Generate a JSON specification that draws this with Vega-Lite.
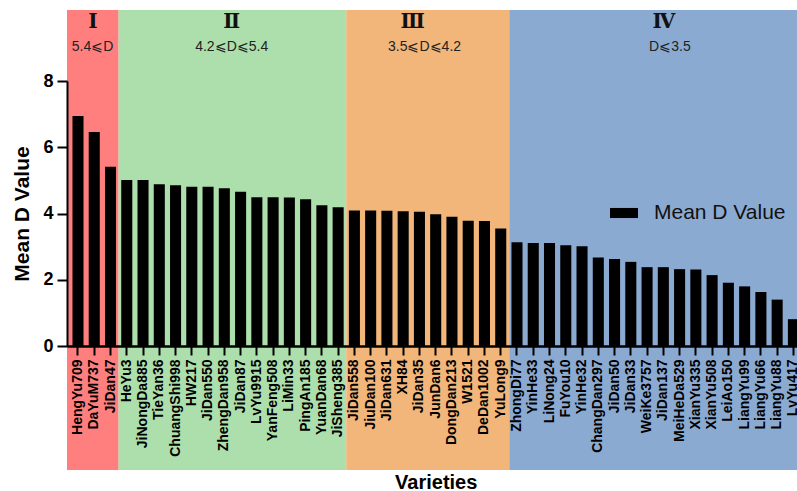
{
  "$schema": "https://vega.github.io/schema/vega-lite/v6.json",
  "width": 730,
  "height": 265,
  "autosize": {"type": "none"},
  "padding": {"left": 67, "top": 81, "right": 0, "bottom": 145},
  "background": "white",
  "config": {"view": {"stroke": null}, "font": "Liberation Sans"},
  "datasets": {
    "bands": [
      {"grade": "Ⅰ", "cond": "5.4⩽D", "start": 0, "end": 3.175, "lo": -3.74, "hi": 10.14, "numX": 1.6, "condX": 1.57, "numY": 9.78, "condY": 9.04},
      {"grade": "Ⅱ", "cond": "4.2⩽D⩽5.4", "start": 3.175, "end": 17.175, "lo": -3.74, "hi": 10.14, "numX": 10.13, "condX": 10.13, "numY": 9.78, "condY": 9.04},
      {"grade": "Ⅲ", "cond": "3.5⩽D⩽4.2", "start": 17.175, "end": 27.2, "lo": -3.74, "hi": 10.14, "numX": 21.26, "condX": 21.99, "numY": 9.78, "condY": 9.04},
      {"grade": "Ⅳ", "cond": "D⩽3.5", "start": 27.2, "end": 45.352, "lo": -3.74, "hi": 10.14, "numX": 36.7, "condX": 37.08, "numY": 9.78, "condY": 9.04}
    ],
    "bars": [
      {"variety": "HengYu709", "d": 6.94},
      {"variety": "DaYuM737", "d": 6.46},
      {"variety": "JiDan47", "d": 5.41},
      {"variety": "HeYu3", "d": 5.01},
      {"variety": "JiNongDa885", "d": 5.01},
      {"variety": "TieYan36", "d": 4.88},
      {"variety": "ChuangShi998", "d": 4.85},
      {"variety": "HW217", "d": 4.81},
      {"variety": "JiDan550", "d": 4.81},
      {"variety": "ZhengDan958", "d": 4.76},
      {"variety": "JiDan87", "d": 4.66},
      {"variety": "LvYu9915", "d": 4.49},
      {"variety": "YanFeng508", "d": 4.49},
      {"variety": "LiMin33", "d": 4.48},
      {"variety": "PingAn185", "d": 4.43},
      {"variety": "YuanDan68", "d": 4.25},
      {"variety": "JiSheng385", "d": 4.19},
      {"variety": "JiDan558", "d": 4.09},
      {"variety": "JiuDan100", "d": 4.09},
      {"variety": "JiDan631", "d": 4.08},
      {"variety": "XH84", "d": 4.07},
      {"variety": "JiDan35", "d": 4.05},
      {"variety": "JunDan6", "d": 3.98},
      {"variety": "DongDan213", "d": 3.90},
      {"variety": "W1521", "d": 3.78},
      {"variety": "DeDan1002", "d": 3.77},
      {"variety": "YuLong9", "d": 3.55},
      {"variety": "ZhongDi77", "d": 3.13},
      {"variety": "YinHe33", "d": 3.11},
      {"variety": "LiNong24", "d": 3.11},
      {"variety": "FuYou10", "d": 3.04},
      {"variety": "YinHe32", "d": 3.01},
      {"variety": "ChangDan297", "d": 2.67},
      {"variety": "JiDan50", "d": 2.63},
      {"variety": "JiDan33", "d": 2.54},
      {"variety": "WeiKe3757", "d": 2.38},
      {"variety": "JiDan137", "d": 2.38},
      {"variety": "MeiHeDa529", "d": 2.32},
      {"variety": "XianYu335", "d": 2.31},
      {"variety": "XianYu508", "d": 2.14},
      {"variety": "LeiAo150", "d": 1.91},
      {"variety": "LiangYu99", "d": 1.80},
      {"variety": "LiangYu66", "d": 1.63},
      {"variety": "LiangYu88", "d": 1.40},
      {"variety": "LvYu417", "d": 0.81}
    ]
  },
  "layer": [
    {
      "data": {"name": "bands"},
      "encoding": {
        "x": {"field": "start", "type": "quantitative", "scale": {"domain": [0, 45.352], "range": [0, 737.4], "nice": false, "zero": false}, "axis": null}
      },
      "layer": [
        {
          "mark": {"type": "rect"},
          "encoding": {
            "x2": {"field": "end"},
            "y": {"field": "lo", "type": "quantitative", "scale": {"domain": [0, 8], "nice": false}, "axis": null},
            "y2": {"field": "hi"},
            "color": {"field": "grade", "type": "nominal", "scale": {"domain": ["Ⅰ", "Ⅱ", "Ⅲ", "Ⅳ"], "range": ["#FF7F7F", "#ADDFAD", "#F2B67B", "#8BAAD2"]}, "legend": null}
          }
        },
        {
          "mark": {"type": "text", "font": "DejaVu Serif", "fontSize": 20, "fontWeight": "bold", "color": "#111111", "align": "center", "baseline": "middle"},
          "encoding": {
            "x": {"field": "numX", "type": "quantitative"},
            "y": {"field": "numY", "type": "quantitative", "scale": {"domain": [0, 8], "nice": false}, "axis": null},
            "text": {"field": "grade"}
          }
        },
        {
          "mark": {"type": "text", "font": "Liberation Sans", "fontSize": 14, "color": "#222222", "align": "center", "baseline": "middle"},
          "encoding": {
            "x": {"field": "condX", "type": "quantitative"},
            "y": {"field": "condY", "type": "quantitative", "scale": {"domain": [0, 8], "nice": false}, "axis": null},
            "text": {"field": "cond"}
          }
        }
      ]
    },
    {
      "data": {"name": "bars"},
      "mark": {"type": "bar", "color": "black", "clip": false},
      "encoding": {
        "x": {
          "field": "variety", "type": "nominal", "sort": null,
          "scale": {"range": [0, 737.4], "paddingInner": 0.32, "paddingOuter": 0.336, "align": 0.5},
          "axis": {
            "title": "Varieties", "zindex": 1, "labelAngle": -90, "labelAlign": "right", "labelBaseline": "middle",
            "labelFont": "Liberation Sans", "labelFontSize": 14, "labelFontWeight": "bold", "labelColor": "black", "labelPadding": 4,
            "tickSize": 9, "tickWidth": 2, "tickColor": "black", "domainWidth": 2.5, "domainColor": "black",
            "titleFont": "Liberation Sans", "titleFontSize": 20, "titleFontWeight": "bold", "titleColor": "black", "titlePadding": 16,
            "labelOverlap": false, "labelBound": false
          }
        },
        "y": {
          "field": "d", "type": "quantitative",
          "scale": {"domain": [0, 8], "nice": false},
          "axis": {
            "title": "Mean D Value", "zindex": 1, "values": [0, 2, 4, 6, 8], "grid": false,
            "labelFont": "Liberation Sans", "labelFontSize": 18, "labelFontWeight": "bold", "labelColor": "black", "labelPadding": 4,
            "tickSize": 10, "tickWidth": 2, "tickColor": "black", "domainWidth": 2, "domainColor": "black",
            "titleFont": "Liberation Sans", "titleFontSize": 21, "titleFontWeight": "bold", "titleColor": "black", "titlePadding": 10
          }
        },
        "color": {
          "datum": "Mean D Value",
          "scale": {"range": ["black"]},
          "legend": {
            "title": null, "orient": "none", "legendX": 543, "legendY": 118, "padding": 0,
            "symbolType": "M-1,-0.36H1V0.36H-1Z", "symbolSize": 784, "symbolStrokeWidth": 0, "symbolFillColor": "black",
            "labelFont": "Liberation Sans", "labelFontSize": 21, "labelColor": "#111111", "labelOffset": 16
          }
        }
      }
    }
  ],
  "resolve": {"scale": {"x": "independent", "y": "independent", "color": "independent"}, "axis": {"x": "independent", "y": "independent"}}
}
